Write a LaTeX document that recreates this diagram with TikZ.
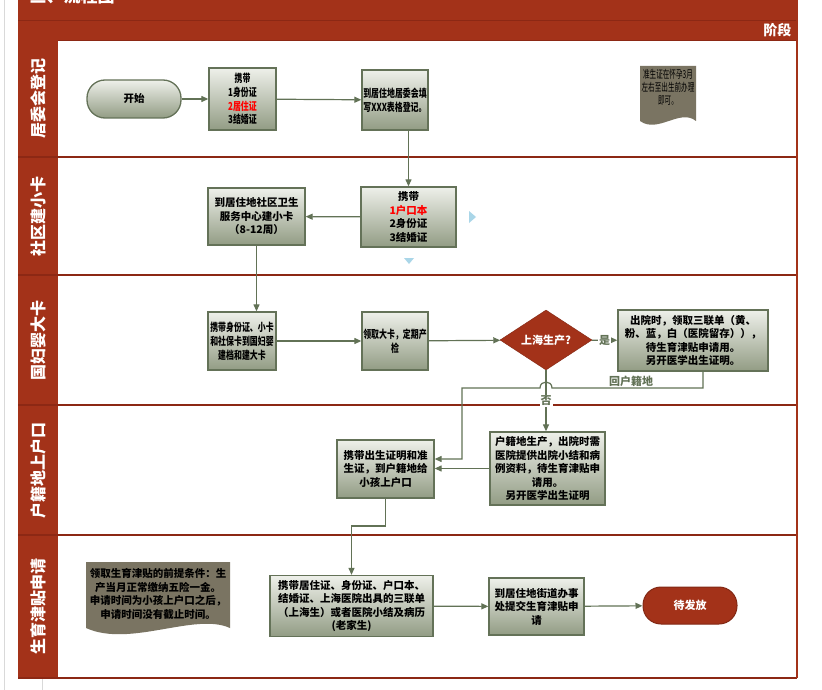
\documentclass[tikz,border=0pt]{standalone}
\usepackage{fontspec}
\setmainfont{Noto Sans CJK SC}
\newfontfamily\narrowcjk{Noto Sans CJK SC}[FakeStretch=0.72]
\newfontfamily\slimcjk{Noto Sans CJK SC}[FakeStretch=0.6]
\usetikzlibrary{shapes.geometric,arrows.meta}

\definecolor{bandred}{RGB}{163,50,25}
\definecolor{lanered}{RGB}{140,40,20}
\definecolor{boxtop}{RGB}{238,240,234}
\definecolor{boxbot}{RGB}{146,156,132}
\definecolor{boxline}{RGB}{100,114,88}
\definecolor{flowcol}{RGB}{98,114,86}
\definecolor{notefill}{RGB}{122,116,98}
\definecolor{hintblue}{RGB}{170,214,232}

\begin{document}
\begin{tikzpicture}[x=1pt,y=-1pt,
  box/.style={draw=boxline, line width=1.3pt, top color=boxtop, bottom color=boxbot,
    inner sep=0pt, align=center, font=\fontsize{10.5}{13.5}\selectfont\bfseries},
  narrowbox/.style={box, font=\narrowcjk\fontsize{11}{13.8}\selectfont\bfseries},
  terminal/.style={box, rounded corners=18pt},
  endterm/.style={fill=bandred, draw=bandred!80!black, line width=1pt, rounded corners=18pt,
    inner sep=0pt, text=white, font=\fontsize{11}{13}\selectfont\bfseries},
  decision/.style={diamond, fill=bandred, draw=bandred!80!black, inner sep=0pt, aspect=1.5,
    text=white, font=\fontsize{11}{13}\selectfont\bfseries},
  flow/.style={draw=flowcol, line width=1.2pt, -{Triangle[length=7pt,width=6pt]}},
  lanetitle/.style={rotate=90, text=white, font=\fontsize{16}{18}\selectfont\bfseries},
  lanesep/.style={draw=lanered, line width=1.8pt},
  branch/.style={text=flowcol, fill=white, inner sep=1pt, font=\fontsize{11}{13}\selectfont\bfseries},
  notetext/.style={align=center, inner sep=0pt},
  doc/.style={fill=notefill},
  hint/.style={fill=hintblue}
]
\useasboundingbox (0,0) rectangle (822,690);
\fill[white] (0,0) rectangle (822,690);

% page guides
\draw[black!15, line width=0.8pt] (4,0) -- (4,690);
\draw[black!15, line width=0.6pt] (42,679) -- (42,690);

% header bands and lane title column
\fill[bandred] (18,0) rectangle (797,40);
\draw[lanered, line width=1.6pt] (18,20.5) -- (797,20.5);
\fill[bandred] (18,40) rectangle (58,678);
\node[text=white, anchor=west, font=\fontsize{17}{19}\selectfont\bfseries] (title) at (26,-4) {三、流程图};
\node[text=white, anchor=east, font=\fontsize{14}{16}\selectfont\bfseries] (stage) at (795,30) {阶段};

% lane separators and frame
\draw[lanesep] (58,40.5) -- (797,40.5);
\draw[lanesep] (18,157) -- (797,157);
\draw[lanesep] (18,275) -- (797,275);
\draw[lanesep] (18,405) -- (797,405);
\draw[lanesep] (18,535) -- (797,535);
\draw[lanesep] (18,678) -- (797,678);
\draw[bandred, line width=1.6pt] (797,0) -- (797,678);

% lane titles
\node[lanetitle] (lane1) at (38,98.5) {居委会登记};
\node[lanetitle] (lane2) at (38,216) {社区建小卡};
\node[lanetitle] (lane3) at (38,340) {国妇婴大卡};
\node[lanetitle] (lane4) at (38,470) {户籍地上户口};
\node[lanetitle] (lane5) at (38,606.5) {生育津贴申请};

% lane 1
\node[terminal, minimum width=94, minimum height=38] (start) at (134,99) {开始};
\node[narrowbox, minimum width=67, minimum height=62, text width=65] (b1) at (242.5,99)
  {携带\\1身份证\\{\color{red}2居住证}\\3结婚证};
\node[narrowbox, minimum width=66, minimum height=60, text width=64] (b2) at (395,100)
  {到居住地居委会填\\写XXX表格登记。};
\fill[doc] (640,66) -- (696,66) -- (696,121)
  .. controls (680,108) and (658,134) .. (640,121) -- cycle;
\node[notetext, font=\slimcjk\fontsize{11}{13}\selectfont] (note1) at (668,87)
  {准生证在怀孕3月\\左右至出生前办理\\即可。};

% lane 2
\node[box, minimum width=95, minimum height=60, text width=90] (b3) at (408.5,217)
  {携带\\{\color{red}1户口本}\\2身份证\\3结婚证};
\node[box, minimum width=97, minimum height=57, text width=95] (b4) at (256.5,216.5)
  {到居住地社区卫生\\服务中心建小卡\\（8-12周）};
\fill[hint] (469,211) -- (476,217) -- (469,223) -- cycle;
\fill[hint] (404,258) -- (414,258) -- (409,264) -- cycle;

% lane 3
\node[narrowbox, minimum width=68, minimum height=58, text width=66] (b5) at (242,341)
  {携带身份证、小卡\\和社保卡到国妇婴\\建档和建大卡};
\node[narrowbox, minimum width=66, minimum height=58, text width=64] (b6) at (395,341)
  {领取大卡，定期产\\检};
\node[decision, minimum width=92, minimum height=60] (dec) at (546,340) {上海生产?};
\node[box, minimum width=150, minimum height=61, text width=146] (b7) at (693,340.5)
  {出院时，领取三联单（黄、\\粉、蓝，白（医院留存）），\\待生育津贴申请用。\\另开医学出生证明。};

% lane 4
\node[box, minimum width=97, minimum height=58, text width=95] (b8) at (385.5,469)
  {携带出生证明和准\\生证，到户籍地给\\小孩上户口};
\node[box, minimum width=115, minimum height=73, text width=113] (b9) at (547.5,468.5)
  {户籍地生产，出院时需\\医院提供出院小结和病\\例资料，待生育津贴申\\请用。\\另开医学出生证明};

% lane 5
\fill[doc] (86,562) -- (230,562) -- (230,628)
  .. controls (195,612) and (130,648) .. (86,628) -- cycle;
\node[notetext, font=\fontsize{10.5}{13.5}\selectfont\bfseries] (note2) at (158,594)
  {领取生育津贴的前提条件：生\\产当月正常缴纳五险一金。\\申请时间为小孩上户口之后，\\申请时间没有截止时间。};
\node[box, minimum width=163, minimum height=61, text width=160] (b10) at (351.5,606)
  {携带居住证、身份证、户口本、\\结婚证、上海医院出具的三联单\\（上海生）或者医院小结及病历\\(老家生)};
\node[box, minimum width=95, minimum height=57, text width=93] (b11) at (536.5,606.5)
  {到居住地街道办事\\处提交生育津贴申\\请};
\node[endterm, minimum width=94, minimum height=37] (finish) at (690,605.5) {待发放};

% connectors
\draw[flow] (start) -- (b1);
\draw[flow] (b1) -- (b2);
\draw[flow] (b3.north |- b2.south) -- (b3.north);
\draw[flow] (b3) -- (b4);
\draw[flow] (b4.south) -- (b4.south |- b5.north);
\draw[flow] (b5) -- (b6);
\draw[flow] (b6) -- (dec);
\draw[flow] (dec) -- (b7) node[branch, midway] {是};
\draw[flow] (dec.south) -- (dec.south |- b9.north);
\node[branch] (no) at (546,401) {否};
\draw[flow] (b7.south -| 703,0) -- (703,388) -- (552,388)
  .. controls (552,380) and (540,380) .. (540,388)
  -- (462,388) -- (462,459) -- (b8.east |- 0,459);
\node[text=flowcol, anchor=south, inner sep=1pt, font=\fontsize{11}{13}\selectfont\bfseries] (back) at (631,388) {回户籍地};
\draw[flow] (b9.west) -- (b9.west -| b8.east);
\draw[flow] (b8.south) -- (b8.south |- 0,526) -| (b10.north);
\draw[flow] (b10) -- (b11);
\draw[flow] (b11) -- (finish);
\end{tikzpicture}
\end{document}
